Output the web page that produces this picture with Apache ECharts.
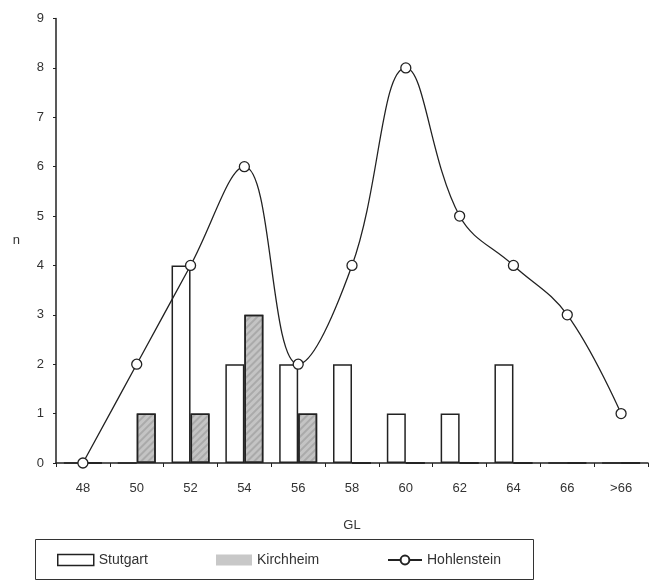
<!DOCTYPE html>
<html><head><meta charset="utf-8">
<script src="https://cdn.jsdelivr.net/npm/echarts@6/dist/echarts.min.js"></script>
<style>html,body{margin:0;padding:0;background:#fff}#c{width:656px;height:580px}</style>
</head><body><div id="c"></div>
<script>
var categories = ['48','50','52','54','56','58','60','62','64','66','>66'];
var stuttgart = [0,0,4,2,2,2,1,1,2,0,0];
var kirchheim = [0,1,1,3,1,0,0,0,0,0,0];
var hohlenstein = [0,2,4,6,2,4,8,5,4,3,1];
var yTicks = [0,1,2,3,4,5,6,7,8,9];

var chart = echarts.init(document.getElementById('c'), null, {renderer:'canvas'});
var txt = {color:'#333', fontFamily:'Liberation Sans, Arial, sans-serif', fontSize:13};
function lg(name, left, w, extra){
  return Object.assign({
    orient:'horizontal', left:left, top:553, padding:0,
    itemWidth:w, itemHeight:11, itemGap:0,
    textStyle:Object.assign({}, txt, {fontSize:14, padding:[0,0,0,0]}),
    data:[name]
  }, extra||{});
}
chart.setOption({
  animation:false,
  backgroundColor:'#fff',
  grid:{left:56, right:8, top:18.5, bottom:117},
  xAxis:{
    type:'category', data:categories, boundaryGap:true,
    name:'GL', nameLocation:'middle', nameGap:56,
    nameTextStyle:Object.assign({}, txt, {fontSize:13}),
    axisLine:{lineStyle:{color:'#222', width:1.5}},
    axisTick:{show:true, alignWithLabel:false, length:4, lineStyle:{color:'#222'}},
    axisLabel:Object.assign({}, txt, {margin:19})
  },
  yAxis:{
    type:'value', min:0, max:9, interval:1,
    name:'n', nameLocation:'middle', nameGap:36, nameRotate:0,
    nameTextStyle:Object.assign({}, txt, {fontSize:13}),
    axisLine:{show:true, lineStyle:{color:'#222', width:1.5}},
    axisTick:{show:true, length:3, lineStyle:{color:'#222'}},
    splitLine:{show:false},
    axisLabel:Object.assign({}, txt, {margin:12, formatter:function(v){return yTicks.indexOf(v)>=0?String(v):'';}})
  },
  graphic:[{type:'rect', shape:{x:35.5, y:539.5, width:498, height:40}, style:{fill:'none', stroke:'#333', lineWidth:1}}],
  legend:[
    lg({name:'Stutgart', icon:'rect', itemStyle:{color:'#fff', borderColor:'#222', borderWidth:1.5}}, 57, 36),
    lg({name:'Kirchheim', icon:'rect', itemStyle:{color:'#c8c8c8', borderColor:'#c8c8c8', borderWidth:0, decal:'none'}}, 216, 36),
    lg({name:'Hohlenstein'}, 387, 34)
  ],
  series:[
    {name:'Stutgart', type:'bar', data:stuttgart, barWidth:19, barGap:'0%',
     itemStyle:{color:'#fff', borderColor:'#222', borderWidth:1.5}},
    {name:'Kirchheim', type:'bar', data:kirchheim, barWidth:19,
     itemStyle:{color:'#c4c4c4', borderColor:'#222', borderWidth:1.5,
       decal:{symbol:'rect', dashArrayX:[1,0], dashArrayY:[2,3], rotation:-Math.PI/4, color:'rgba(120,120,120,0.35)'}}},
    {name:'Hohlenstein', type:'line', data:hohlenstein, smooth:0.4,
     symbol:'circle', symbolSize:10, showAllSymbol:true, z:5,
     lineStyle:{color:'#222', width:1.3},
     itemStyle:{color:'#fff', borderColor:'#222', borderWidth:1.3}}
  ]
});
</script></body></html>
